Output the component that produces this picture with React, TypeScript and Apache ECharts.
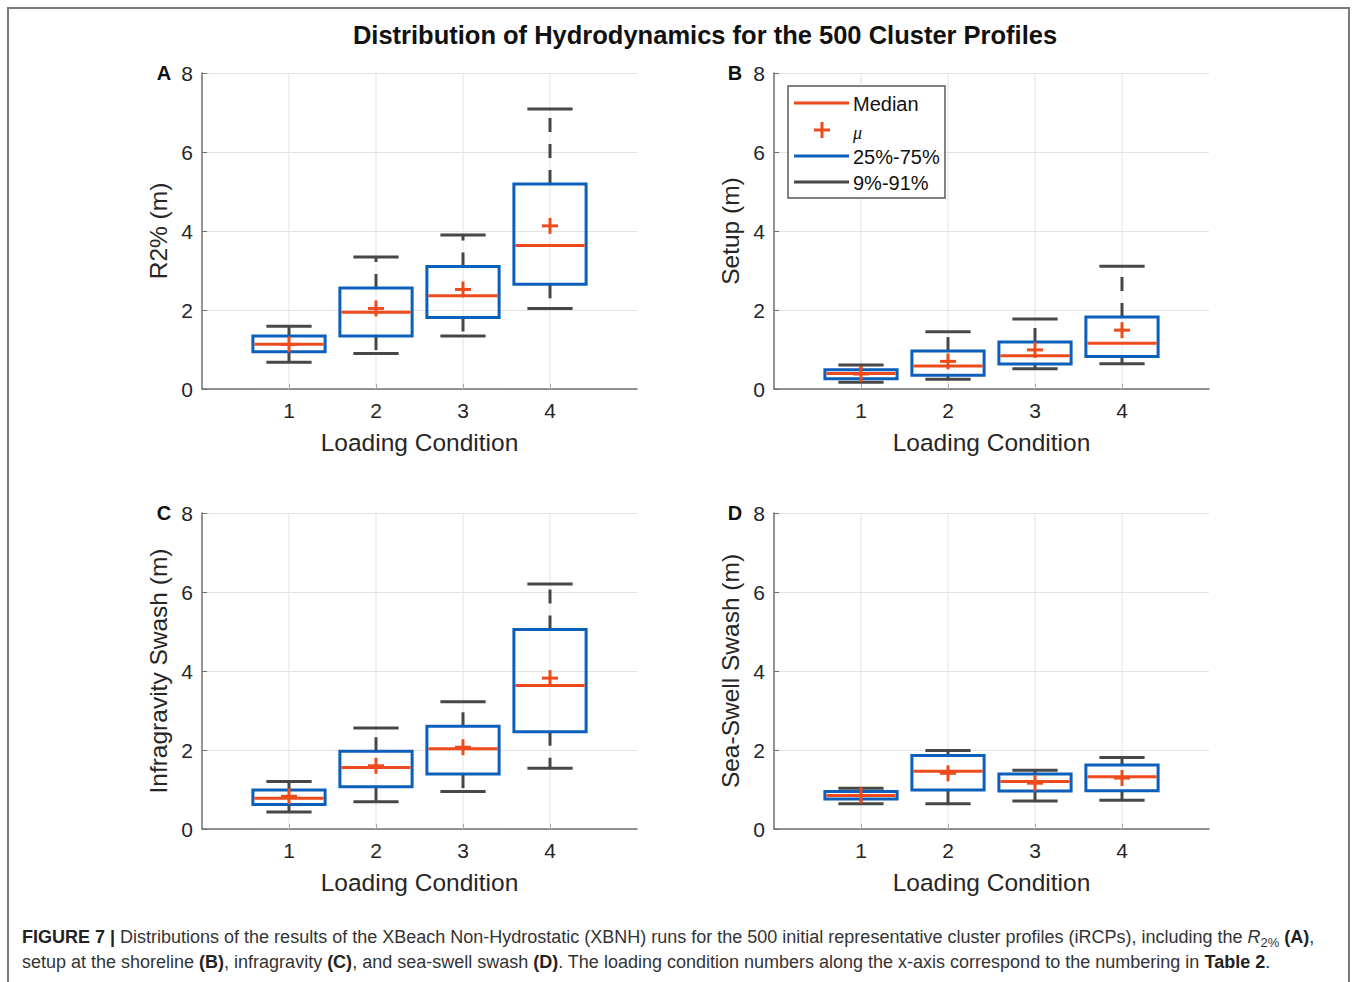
import React, { useEffect, useRef } from "react";
import * as echarts from "echarts";

// Loading conditions (x categories)
const conditions = [1, 2, 3, 4];
const xTickLabels = ["1", "2", "3", "4"];
const yTicks = [0, 2, 4, 6, 8];

// Panel A: R2% (m)
const r2P9 = [0.68, 0.9, 1.34, 2.04];
const r2Q25 = [0.94, 1.34, 1.81, 2.65];
const r2Median = [1.13, 1.94, 2.36, 3.63];
const r2Mean = [1.13, 2.04, 2.52, 4.13];
const r2Q75 = [1.34, 2.56, 3.1, 5.19];
const r2P91 = [1.59, 3.34, 3.9, 7.09];

// Panel B: Setup (m)
const setupP9 = [0.17, 0.25, 0.51, 0.64];
const setupQ25 = [0.26, 0.35, 0.63, 0.82];
const setupMedian = [0.39, 0.58, 0.84, 1.16];
const setupMean = [0.38, 0.7, 0.99, 1.49];
const setupQ75 = [0.49, 0.96, 1.19, 1.82];
const setupP91 = [0.61, 1.45, 1.77, 3.11];

// Panel C: Infragravity Swash (m)
const igP9 = [0.43, 0.69, 0.95, 1.54];
const igQ25 = [0.62, 1.07, 1.39, 2.46];
const igMedian = [0.78, 1.56, 2.03, 3.63];
const igMean = [0.83, 1.6, 2.07, 3.82];
const igQ75 = [0.99, 1.97, 2.6, 5.05];
const igP91 = [1.2, 2.56, 3.22, 6.2];

// Panel D: Sea-Swell Swash (m)
const ssP9 = [0.64, 0.64, 0.71, 0.73];
const ssQ25 = [0.76, 0.99, 0.96, 0.97];
const ssMedian = [0.85, 1.46, 1.2, 1.32];
const ssMean = [0.85, 1.41, 1.16, 1.29];
const ssQ75 = [0.95, 1.86, 1.39, 1.62];
const ssP91 = [1.03, 1.99, 1.49, 1.81];

const panelLetters = ["A", "B", "C", "D"];
const yNames = ["R2% (m)", "Setup (m)", "Infragravity Swash (m)", "Sea-Swell Swash (m)"];
const xName = "Loading Condition";
const legendLabels = ["Median", "\u03bc", "25%-75%", "9%-91%"];

const FONT = "'Liberation Sans', Arial, Helvetica, sans-serif";
const BLUE = "#0C5FBA";
const RED = "#EE4B1C";
const GREY = "#474747";
const AXIS = "#707070";
const TEXT = "#262626";

const panels = [
  [r2P9, r2Q25, r2Median, r2Mean, r2Q75, r2P91],
  [setupP9, setupQ25, setupMedian, setupMean, setupQ75, setupP91],
  [igP9, igQ25, igMedian, igMean, igQ75, igP91],
  [ssP9, ssQ25, ssMedian, ssMean, ssQ75, ssP91],
];

const gridPos = [
  { left: 202, top: 73 },
  { left: 774, top: 73 },
  { left: 202, top: 513 },
  { left: 774, top: 513 },
];
const GW = 435;
const GH = 316;

function boxRender(params: any, api: any) {
  const x = api.value(0);
  const unit = api.size([1, 0])[0];
  const boxW = unit * 0.83;
  const capW = unit * 0.52;
  const c = (v: number) => api.coord([x, v]);
  const [cx, yP9] = c(api.value(1));
  const yQ25 = c(api.value(2))[1];
  const yMed = c(api.value(3))[1];
  const yMean = c(api.value(4))[1];
  const yQ75 = c(api.value(5))[1];
  const yP91 = c(api.value(6))[1];
  const lw = 3;
  const pl = 8;
  return {
    type: "group",
    children: [
      {
        type: "line",
        shape: { x1: cx, y1: yQ75, x2: cx, y2: yP91 },
        style: { stroke: GREY, lineWidth: lw, lineDash: [14, 12] },
      },
      {
        type: "line",
        shape: { x1: cx, y1: yQ25, x2: cx, y2: yP9 },
        style: { stroke: GREY, lineWidth: lw, lineDash: [14, 12] },
      },
      {
        type: "line",
        shape: { x1: cx - capW / 2, y1: yP91, x2: cx + capW / 2, y2: yP91 },
        style: { stroke: GREY, lineWidth: lw },
      },
      {
        type: "line",
        shape: { x1: cx - capW / 2, y1: yP9, x2: cx + capW / 2, y2: yP9 },
        style: { stroke: GREY, lineWidth: lw },
      },
      {
        type: "rect",
        shape: { x: cx - boxW / 2, y: yQ75, width: boxW, height: yQ25 - yQ75 },
        style: { fill: "none", stroke: BLUE, lineWidth: lw },
      },
      {
        type: "line",
        shape: { x1: cx - boxW / 2 + 1.5, y1: yMed, x2: cx + boxW / 2 - 1.5, y2: yMed },
        style: { stroke: RED, lineWidth: lw },
      },
      {
        type: "line",
        shape: { x1: cx - pl, y1: yMean, x2: cx + pl, y2: yMean },
        style: { stroke: RED, lineWidth: lw },
      },
      {
        type: "line",
        shape: { x1: cx, y1: yMean - pl, x2: cx, y2: yMean + pl },
        style: { stroke: RED, lineWidth: lw },
      },
    ],
  };
}

function gridLineRender(params: any, api: any) {
  const x = api.value(0);
  const cs = params.coordSys;
  const cx = api.coord([x, 0])[0];
  return {
    type: "line",
    shape: { x1: cx, y1: cs.y, x2: cx, y2: cs.y + cs.height },
    style: { stroke: "#e3e3e3", lineWidth: 1 },
  };
}

function buildOption() {
  const grids: any[] = [];
  const xAxes: any[] = [];
  const yAxes: any[] = [];
  const series: any[] = [];
  panels.forEach((p, i) => {
    grids.push({ left: gridPos[i].left, top: gridPos[i].top, width: GW, height: GH, outerBoundsMode: "none" });
    xAxes.push({
      type: "value",
      gridIndex: i,
      min: 0,
      max: 5,
      interval: 1,
      name: xName,
      nameLocation: "middle",
      nameGap: 41,
      nameTextStyle: { fontSize: 24.5, fontFamily: FONT, color: TEXT },
      axisLine: { show: true, lineStyle: { color: AXIS, width: 1.5 } },
      axisTick: { show: true, inside: true, length: 5, lineStyle: { color: AXIS }, customValues: conditions },
      axisLabel: {
        fontSize: 21,
        fontFamily: FONT,
        color: TEXT,
        margin: 11,
        customValues: conditions,
        formatter: (v: number) => {
          const k = conditions.indexOf(v);
          return k >= 0 ? xTickLabels[k] : "";
        },
      },
      splitLine: { show: false },
    });
    yAxes.push({
      type: "value",
      gridIndex: i,
      min: 0,
      max: 8,
      interval: 2,
      name: yNames[i],
      nameLocation: "middle",
      nameGap: 31,
      nameTextStyle: { fontSize: 24.5, fontFamily: FONT, color: TEXT },
      axisLine: { show: true, lineStyle: { color: AXIS, width: 1.5 } },
      axisTick: { show: true, inside: true, length: 5, lineStyle: { color: AXIS } },
      axisLabel: {
        fontSize: 21,
        fontFamily: FONT,
        color: TEXT,
        margin: 9,
        formatter: (v: number) => (yTicks.indexOf(v) >= 0 ? String(v) : ""),
      },
      splitLine: { show: true, lineStyle: { color: "#e3e3e3", width: 1 } },
    });
    series.push({
      type: "custom",
      xAxisIndex: i,
      yAxisIndex: i,
      z: 1,
      silent: true,
      renderItem: gridLineRender,
      data: conditions.map((c) => [c]),
      encode: { x: 0 },
    });
    series.push({
      type: "custom",
      xAxisIndex: i,
      yAxisIndex: i,
      z: 3,
      silent: true,
      renderItem: boxRender,
      data: conditions.map((c, k) => [c, p[0][k], p[1][k], p[2][k], p[3][k], p[4][k], p[5][k]]),
      encode: { x: 0, y: [1, 2, 3, 4, 5, 6] },
    });
  });

  const graphic: any[] = [];
  // frame
  graphic.push({
    type: "polyline",
    shape: { points: [[8, 990], [8, 8], [1349, 8], [1349, 990]] },
    style: { stroke: "#7a7a7a", lineWidth: 2, fill: "none" },
    z: 10,
  });
  // title
  graphic.push({
    type: "text",
    style: {
      text: "Distribution of Hydrodynamics for the 500 Cluster Profiles",
      x: 705,
      y: 35,
      align: "center",
      verticalAlign: "middle",
      fontSize: 25.5,
      fontWeight: "bold",
      fontFamily: FONT,
      fill: "#111",
    },
  });
  // panel letters
  const letterPos = [
    [164, 73],
    [735, 73],
    [164, 513],
    [735, 513],
  ];
  panelLetters.forEach((L, i) => {
    graphic.push({
      type: "text",
      style: {
        text: L,
        x: letterPos[i][0],
        y: letterPos[i][1],
        align: "center",
        verticalAlign: "middle",
        fontSize: 20,
        fontWeight: "bold",
        fontFamily: FONT,
        fill: "#111",
      },
    });
  });
  // legend in panel B
  const lx = 788;
  const ly = 86;
  graphic.push({
    type: "rect",
    shape: { x: lx, y: ly, width: 157, height: 112 },
    style: { fill: "#fff", stroke: "#5a5a5a", lineWidth: 1.5 },
    z: 20,
  });
  const rowY = [103, 130, 156, 182];
  const lineColors = [RED, "", BLUE, GREY];
  rowY.forEach((ry, k) => {
    if (k === 1) {
      graphic.push({ type: "line", shape: { x1: 814, y1: ry, x2: 830, y2: ry }, style: { stroke: RED, lineWidth: 3 }, z: 21 });
      graphic.push({ type: "line", shape: { x1: 822, y1: ry - 8, x2: 822, y2: ry + 8 }, style: { stroke: RED, lineWidth: 3 }, z: 21 });
    } else {
      graphic.push({
        type: "line",
        shape: { x1: 794, y1: ry, x2: 849, y2: ry },
        style: { stroke: lineColors[k], lineWidth: 3 },
        z: 21,
      });
    }
    graphic.push({
      type: "text",
      z: 21,
      style: {
        text: legendLabels[k],
        x: 853,
        y: k === 1 ? ry + 3 : ry + 1,
        align: "left",
        verticalAlign: "middle",
        fontSize: k === 1 ? 18 : 20,
        fontStyle: k === 1 ? "italic" : "normal",
        fontFamily: k === 1 ? "'Liberation Serif', 'DejaVu Serif', serif" : FONT,
        fill: "#111",
      },
    });
  });
  // caption
  const capRich = {
    b: { fontWeight: "bold", fontSize: 18, fontFamily: FONT, fill: "#222", color: "#222" },
    i: { fontStyle: "italic", fontSize: 18, fontFamily: FONT, fill: "#333", color: "#333" },
    sub: { fontSize: 13, fontFamily: FONT, fill: "#333", color: "#333", padding: [10, 0, 0, 0] },
    n: { fontSize: 18, fontFamily: FONT, fill: "#333", color: "#333" },
  };
  const capLines = [
    "{b|FIGURE 7 |}{n| Distributions of the results of the XBeach Non-Hydrostatic (XBNH) runs for the 500 initial representative cluster profiles (iRCPs), including the }{i|R}{sub|2%}{n| }{b|(A)}{n|,}",
    "{n|setup at the shoreline }{b|(B)}{n|, infragravity }{b|(C)}{n|, and sea-swell swash }{b|(D)}{n|. The loading condition numbers along the x-axis correspond to the numbering in }{b|Table 2}{n|.}",
  ];
  [937, 962].forEach((cy, k) => {
    graphic.push({
      type: "text",
      style: {
        text: capLines[k],
        x: 22,
        y: cy,
        align: "left",
        verticalAlign: "middle",
        fontSize: 18,
        fontFamily: FONT,
        fill: "#333",
        rich: capRich,
      },
    });
  });

  return {
    animation: false,
    backgroundColor: "#fff",
    grid: grids,
    xAxis: xAxes,
    yAxis: yAxes,
    series,
    graphic,
  };
}

export default function App() {
  const ref = useRef<HTMLDivElement>(null);
  useEffect(() => {
    if (!ref.current) return;
    const chart = echarts.init(ref.current, null, { renderer: "svg" });
    chart.setOption(buildOption() as any);
    return () => chart.dispose();
  }, []);
  return (
    <div
      ref={ref}
      style={{ position: "fixed", left: 0, top: 0, width: 1358, height: 982, background: "#fff" }}
    />
  );
}
